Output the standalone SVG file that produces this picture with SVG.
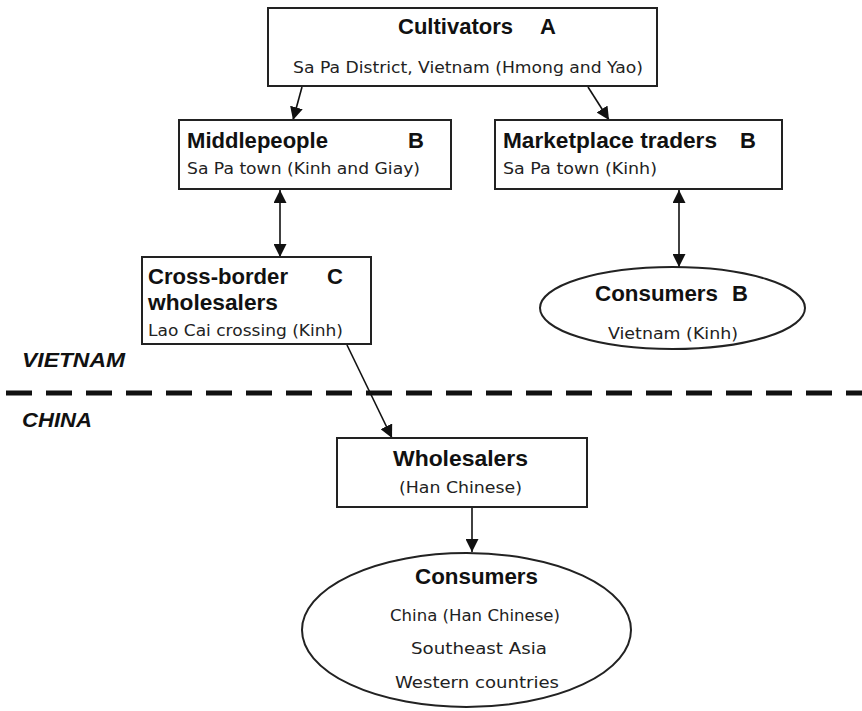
<svg xmlns="http://www.w3.org/2000/svg" width="862" height="711" viewBox="0 0 862 711">
  <defs>
    <marker id="head" viewBox="0 0 10 10" refX="10" refY="5" markerWidth="13" markerHeight="13" markerUnits="userSpaceOnUse" orient="auto-start-reverse">
      <path d="M0,0 L10,5 L0,10 Z" fill="#111"/>
    </marker>
    <style>
      .box { fill: #fff; stroke: #222; stroke-width: 2; }
      .title { font-family: "Liberation Sans", Arial, sans-serif; font-weight: bold; font-size: 22px; fill: #111; }
      .sub { font-family: "DejaVu Sans", Verdana, sans-serif; font-size: 15px; fill: #222; }
      .region { font-family: "Liberation Sans", Arial, sans-serif; font-weight: bold; font-style: italic; font-size: 21px; fill: #111; }
      .link { stroke: #111; stroke-width: 1.6; fill: none; marker-end: url(#head); }
      .both { marker-start: url(#head); }
    </style>
  </defs>
  <rect width="862" height="711" fill="#fff"/>

  <!-- border between the two countries -->
  <g id="border">
    <line x1="6" y1="393" x2="862" y2="393" stroke="#111" stroke-width="5" stroke-dasharray="26 14"/>
    <text class="region" x="22" y="367" textLength="103" lengthAdjust="spacingAndGlyphs">VIETNAM</text>
    <text class="region" x="22" y="427" textLength="70" lengthAdjust="spacingAndGlyphs">CHINA</text>
  </g>

  <g id="connectors">
    <line class="link" x1="302" y1="87" x2="293" y2="120"/>
    <line class="link" x1="588" y1="87" x2="609" y2="120"/>
    <line class="link both" x1="280" y1="190" x2="280" y2="257"/>
    <line class="link both" x1="679" y1="190" x2="679" y2="267"/>
    <line class="link" x1="347" y1="345" x2="392" y2="438"/>
    <line class="link" x1="472" y1="508" x2="472" y2="552"/>
  </g>

  <g id="cultivators">
    <rect class="box" x="268" y="8" width="389" height="78"/>
    <text class="title" y="34"><tspan x="398" textLength="115" lengthAdjust="spacingAndGlyphs">Cultivators</tspan><tspan x="540">A</tspan></text>
    <text class="sub" x="293" y="73" textLength="350" lengthAdjust="spacingAndGlyphs">Sa Pa District, Vietnam (Hmong and Yao)</text>
  </g>

  <g id="middlepeople">
    <rect class="box" x="179" y="120" width="272" height="69"/>
    <text class="title" y="148"><tspan x="187" textLength="141" lengthAdjust="spacingAndGlyphs">Middlepeople</tspan><tspan x="408">B</tspan></text>
    <text class="sub" x="187" y="174" textLength="233" lengthAdjust="spacingAndGlyphs">Sa Pa town (Kinh and Giay)</text>
  </g>

  <g id="marketplace-traders">
    <rect class="box" x="495" y="120" width="287" height="69"/>
    <text class="title" y="148"><tspan x="503" textLength="214" lengthAdjust="spacingAndGlyphs">Marketplace traders</tspan><tspan x="740">B</tspan></text>
    <text class="sub" x="503" y="174" textLength="154" lengthAdjust="spacingAndGlyphs">Sa Pa town (Kinh)</text>
  </g>

  <g id="cross-border-wholesalers">
    <rect class="box" x="142" y="257" width="229" height="87"/>
    <text class="title" y="284"><tspan x="148" textLength="140" lengthAdjust="spacingAndGlyphs">Cross-border</tspan><tspan x="327">C</tspan></text>
    <text class="title" x="148" y="310" textLength="130" lengthAdjust="spacingAndGlyphs">wholesalers</text>
    <text class="sub" x="148" y="336" textLength="195" lengthAdjust="spacingAndGlyphs">Lao Cai crossing (Kinh)</text>
  </g>

  <g id="consumers-vietnam">
    <ellipse class="box" cx="672.5" cy="308" rx="132.5" ry="41"/>
    <text class="title" y="301"><tspan x="595" textLength="123" lengthAdjust="spacingAndGlyphs">Consumers</tspan><tspan x="732">B</tspan></text>
    <text class="sub" x="608" y="339" textLength="130" lengthAdjust="spacingAndGlyphs">Vietnam (Kinh)</text>
  </g>

  <g id="wholesalers-china">
    <rect class="box" x="337" y="438" width="250" height="69"/>
    <text class="title" x="393" y="466" textLength="135" lengthAdjust="spacingAndGlyphs">Wholesalers</text>
    <text class="sub" x="399" y="493" textLength="123" lengthAdjust="spacingAndGlyphs">(Han Chinese)</text>
  </g>

  <g id="consumers-world">
    <ellipse class="box" cx="466.5" cy="630" rx="164.5" ry="77"/>
    <text class="title" x="415" y="584" textLength="123" lengthAdjust="spacingAndGlyphs">Consumers</text>
    <text class="sub" x="390" y="621" textLength="170" lengthAdjust="spacingAndGlyphs">China (Han Chinese)</text>
    <text class="sub" x="411" y="654" textLength="136" lengthAdjust="spacingAndGlyphs">Southeast Asia</text>
    <text class="sub" x="395" y="688" textLength="164" lengthAdjust="spacingAndGlyphs">Western countries</text>
  </g>
</svg>
